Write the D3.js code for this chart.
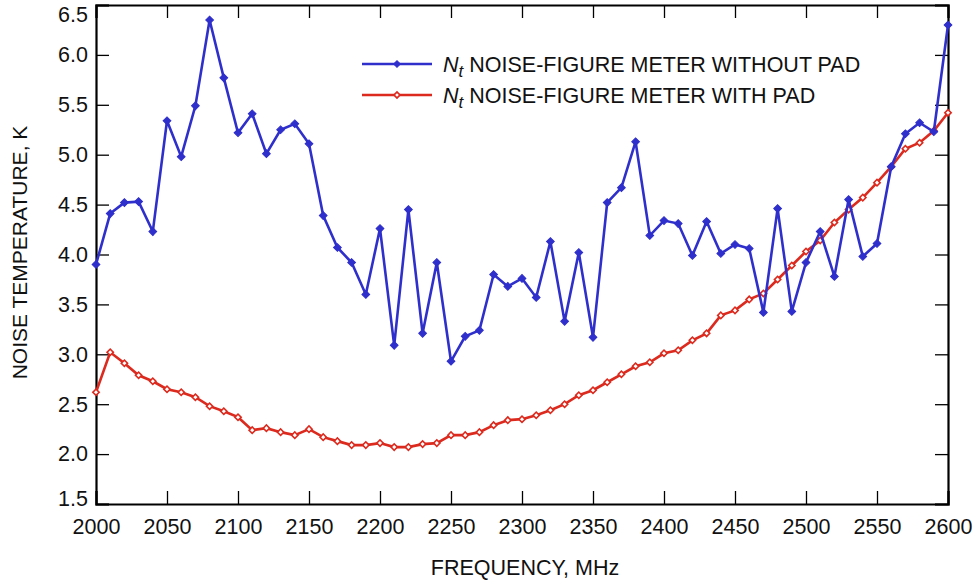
<!DOCTYPE html>
<html>
<head>
  <meta charset="utf-8">
  <title>Noise temperature vs frequency</title>
  <style>
    body { margin: 0; background: #fff; }
    svg { font-family: "Liberation Sans", Arial, sans-serif; }
    .axis path, .axis line { stroke: #000; }
    .axis text { font-size: 21.5px; fill: #111; }
  </style>
</head>
<body>
  <div id="chart"></div>

  <script src="https://d3js.org/d3.v7.min.js"></script>
  <script>
    // frequencies (MHz)
    const freqs = [
      2000, 2010, 2020, 2030, 2040, 2050, 2060, 2070, 2080, 2090,
      2100, 2110, 2120, 2130, 2140, 2150, 2160, 2170, 2180, 2190,
      2200, 2210, 2220, 2230, 2240, 2250, 2260, 2270, 2280, 2290,
      2300, 2310, 2320, 2330, 2340, 2350, 2360, 2370, 2380, 2390,
      2400, 2410, 2420, 2430, 2440, 2450, 2460, 2470, 2480, 2490,
      2500, 2510, 2520, 2530, 2540, 2550, 2560, 2570, 2580, 2590, 2600
    ];

    // Nt noise-figure meter without pad
    const withoutPad = [
      3.90, 4.41, 4.52, 4.53, 4.23, 5.34, 4.98, 5.49, 6.35, 5.77,
      5.22, 5.41, 5.01, 5.25, 5.31, 5.11, 4.39, 4.07, 3.92, 3.60,
      4.26, 3.09, 4.45, 3.21, 3.92, 2.93, 3.18, 3.24, 3.80, 3.68,
      3.76, 3.57, 4.13, 3.33, 4.02, 3.17, 4.52, 4.67, 5.13, 4.19,
      4.34, 4.31, 3.99, 4.33, 4.01, 4.10, 4.06, 3.42, 4.46, 3.43,
      3.92, 4.23, 3.78, 4.55, 3.98, 4.11, 4.88, 5.21, 5.32, 5.23, 6.30
    ];

    // Nt noise-figure meter with pad
    const withPad = [
      2.62, 3.02, 2.91, 2.79, 2.73, 2.65, 2.62, 2.57, 2.48, 2.43,
      2.37, 2.24, 2.26, 2.22, 2.19, 2.25, 2.17, 2.13, 2.09, 2.09,
      2.11, 2.07, 2.07, 2.10, 2.11, 2.19, 2.19, 2.22, 2.29, 2.34,
      2.35, 2.39, 2.44, 2.50, 2.59, 2.64, 2.72, 2.80, 2.88, 2.92,
      3.01, 3.04, 3.14, 3.21, 3.39, 3.44, 3.55, 3.61, 3.75, 3.89,
      4.03, 4.14, 4.32, 4.45, 4.57, 4.72, 4.88, 5.06, 5.12, 5.24, 5.42
    ];

    const xTicks = [2000, 2050, 2100, 2150, 2200, 2250, 2300, 2350, 2400, 2450, 2500, 2550, 2600];
    const yTicks = [1.5, 2.0, 2.5, 3.0, 3.5, 4.0, 4.5, 5.0, 5.5, 6.0, 6.5];

    const seriesNames = ["NOISE-FIGURE METER WITHOUT PAD", "NOISE-FIGURE METER WITH PAD"];

    const width = 979, height = 581;
    const margin = { top: 5, right: 31, bottom: 77, left: 96 };
    const w = width - margin.left - margin.right;
    const h = height - margin.top - margin.bottom;

    const blue = "#2f2fcc";
    const red = "#dc2a1e";

    const svg = d3.select("#chart")
      .append("svg")
      .attr("width", width)
      .attr("height", height);

    const g = svg.append("g")
      .attr("transform", `translate(${margin.left},${margin.top})`);

    const x = d3.scaleLinear().domain([2000, 2600]).range([0, w]);
    const y = d3.scaleLinear().domain([1.5, 6.5]).range([h, 0]);

    // axes, ticks pointing inward
    g.append("g")
      .attr("class", "axis")
      .attr("transform", `translate(0,${h})`)
      .call(d3.axisBottom(x).tickValues(xTicks).tickSize(-13).tickPadding(15).tickFormat(d3.format("d")));

    g.append("g")
      .attr("class", "axis")
      .call(d3.axisTop(x).tickValues(xTicks).tickSize(-13).tickFormat(""));

    const yAxis = g.append("g")
      .attr("class", "axis")
      .call(d3.axisLeft(y).tickValues(yTicks).tickSize(-13).tickPadding(8).tickFormat(d3.format(".1f")));

    g.append("g")
      .attr("class", "axis")
      .attr("transform", `translate(${w},0)`)
      .call(d3.axisRight(y).tickValues(yTicks).tickSize(-13).tickFormat(""));

    g.selectAll(".axis path").attr("stroke-width", 2.2);
    g.selectAll(".axis line").attr("stroke-width", 1.3);

    // end labels are nudged inside the frame like the original
    yAxis.selectAll(".tick text")
      .attr("dy", d => d === 6.5 ? "0.75em" : d === 1.5 ? "0.05em" : "0.32em");

    // axis titles
    svg.append("text")
      .attr("x", margin.left + w / 2 + 3)
      .attr("y", 575)
      .attr("text-anchor", "middle")
      .style("font-size", "21.5px")
      .style("fill", "#111")
      .text("FREQUENCY, MHz");

    svg.append("text")
      .attr("transform", `translate(27,${margin.top + h / 2 - 2}) rotate(-90)`)
      .attr("text-anchor", "middle")
      .style("font-size", "21px")
      .style("fill", "#111")
      .text("NOISE TEMPERATURE, K");

    const line = d3.line()
      .x((d, i) => x(freqs[i]))
      .y(d => y(d));

    const marker = d3.symbol().type(d3.symbolSquare);

    // with pad (red, open diamonds)
    g.append("path")
      .datum(withPad)
      .attr("d", line)
      .attr("fill", "none")
      .attr("stroke", red)
      .attr("stroke-width", 2.6);

    g.selectAll(".m-red")
      .data(withPad)
      .join("path")
      .attr("class", "m-red")
      .attr("d", marker.size(20))
      .attr("transform", (d, i) => `translate(${x(freqs[i])},${y(d)}) rotate(45)`)
      .attr("fill", "#fff")
      .attr("stroke", red)
      .attr("stroke-width", 1.6);

    // without pad (blue, filled diamonds)
    g.append("path")
      .datum(withoutPad)
      .attr("d", line)
      .attr("fill", "none")
      .attr("stroke", blue)
      .attr("stroke-width", 2.6);

    g.selectAll(".m-blue")
      .data(withoutPad)
      .join("path")
      .attr("class", "m-blue")
      .attr("d", marker.size(30))
      .attr("transform", (d, i) => `translate(${x(freqs[i])},${y(d)}) rotate(45)`)
      .attr("fill", blue)
      .attr("stroke", blue)
      .attr("stroke-width", 1);

    // legend
    const legend = svg.append("g");
    const legendRows = [
      { name: seriesNames[0], color: blue, filled: true, yPos: 64 },
      { name: seriesNames[1], color: red, filled: false, yPos: 95 }
    ];

    legendRows.forEach(r => {
      legend.append("line")
        .attr("x1", 362).attr("x2", 432)
        .attr("y1", r.yPos).attr("y2", r.yPos)
        .attr("stroke", r.color)
        .attr("stroke-width", 2.4);

      legend.append("path")
        .attr("d", marker.size(r.filled ? 22 : 18))
        .attr("transform", `translate(397,${r.yPos}) rotate(45)`)
        .attr("fill", r.filled ? r.color : "#fff")
        .attr("stroke", r.color)
        .attr("stroke-width", r.filled ? 1 : 1.6);

      const t = legend.append("text")
        .attr("x", 443)
        .attr("y", r.yPos + 7.5)
        .style("font-size", "21.5px")
        .style("fill", "#111");
      t.append("tspan").style("font-style", "italic").text("N");
      t.append("tspan").style("font-style", "italic").style("font-size", "17px").attr("dy", 5).text("t");
      t.append("tspan").attr("dy", -5).text(" " + r.name);
    });
  </script>
</body>
</html>
